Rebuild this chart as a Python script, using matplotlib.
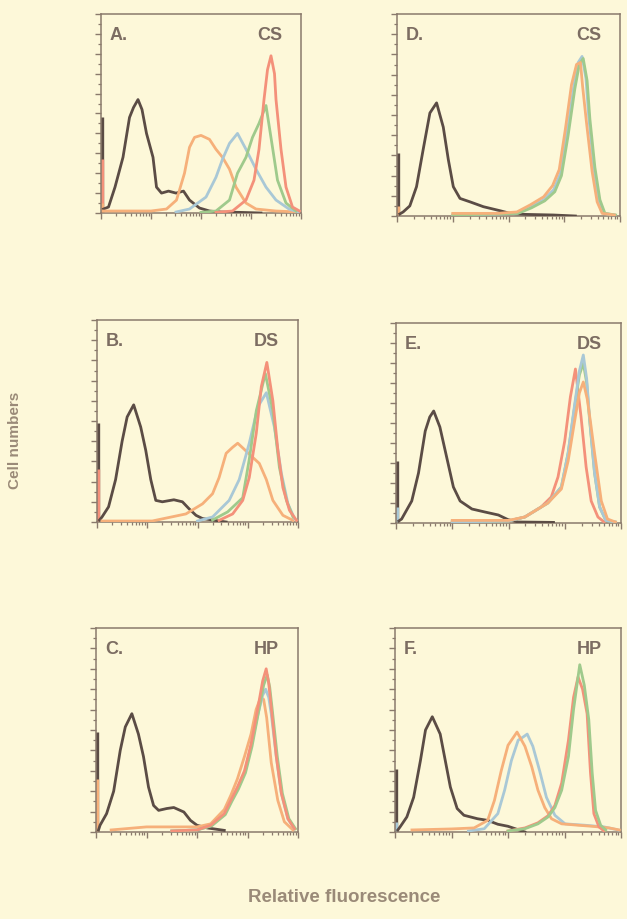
import numpy as np
import matplotlib as mpl
import matplotlib.pyplot as plt
from matplotlib.ticker import LogLocator, MultipleLocator, NullFormatter

mpl.rcParams['font.family'] = ['Liberation Sans', 'DejaVu Sans']

# colours
bg = '#fdf8d9'
ink = '#8a7a6c'
txt = '#7c6d62'
col = {'dark': '#5b4c45', 'orange': '#f6b07a', 'blue': '#a9c8d6',
       'green': '#9fca8c', 'red': '#f4917a'}

# data: per curve (log10 fluorescence, fraction of panel height)
panel_A = {
    'dark': ([0.05, 0.15, 0.28, 0.44, 0.57, 0.65, 0.74, 0.82, 0.91, 1.04, 1.11, 1.21, 1.35, 1.5, 1.65, 1.77, 1.97, 2.17, 2.4, 2.8, 3.2],
             [0.02, 0.03, 0.13, 0.28, 0.48, 0.53, 0.57, 0.52, 0.40, 0.28, 0.13, 0.10, 0.11, 0.10, 0.11, 0.065, 0.025, 0.01, 0.005, 0.003, 0.0]),
    'orange': ([0.05, 0.5, 1.0, 1.31, 1.51, 1.67, 1.77, 1.87, 2.0, 2.17, 2.30, 2.43, 2.57, 2.70, 2.90, 3.10, 3.5, 3.95],
               [0.01, 0.01, 0.01, 0.02, 0.065, 0.2, 0.33, 0.38, 0.39, 0.37, 0.32, 0.28, 0.22, 0.13, 0.05, 0.02, 0.01, 0.005]),
    'blue': ([1.5, 1.77, 2.10, 2.30, 2.43, 2.57, 2.73, 2.90, 3.10, 3.30, 3.50, 3.76, 3.95],
             [0.005, 0.02, 0.08, 0.18, 0.27, 0.35, 0.40, 0.32, 0.22, 0.13, 0.065, 0.02, 0.005]),
    'green': ([2.0, 2.30, 2.57, 2.73, 2.90, 3.03, 3.16, 3.30, 3.43, 3.53, 3.70, 3.90],
              [0.003, 0.01, 0.065, 0.2, 0.28, 0.38, 0.45, 0.54, 0.33, 0.165, 0.05, 0.01]),
    'red': ([2.3, 2.63, 2.90, 3.06, 3.16, 3.26, 3.33, 3.40, 3.47, 3.50, 3.60, 3.70, 3.83, 3.97],
            [0.003, 0.01, 0.065, 0.165, 0.32, 0.57, 0.72, 0.79, 0.70, 0.57, 0.32, 0.13, 0.03, 0.01]),
}
edge_A = {'dark': 0.48, 'red': 0.27, 'orange': 0.05}

panel_B = {
    'dark': ([0.05, 0.1, 0.23, 0.37, 0.5, 0.6, 0.73, 0.87, 0.97, 1.07, 1.17, 1.3, 1.53, 1.7, 1.83, 1.97, 2.1, 2.57],
             [0.01, 0.025, 0.075, 0.21, 0.40, 0.52, 0.58, 0.47, 0.355, 0.21, 0.107, 0.10, 0.11, 0.10, 0.066, 0.033, 0.017, 0.0]),
    'orange': ([0.1, 1.1, 1.77, 2.1, 2.3, 2.43, 2.57, 2.7, 2.8, 2.93, 3.1, 3.23, 3.37, 3.5, 3.7, 3.9],
               [0.005, 0.005, 0.04, 0.09, 0.14, 0.22, 0.34, 0.37, 0.39, 0.36, 0.32, 0.29, 0.21, 0.107, 0.033, 0.008]),
    'blue': ([2.0, 2.3, 2.63, 2.83, 3.03, 3.2, 3.37, 3.53, 3.67, 3.8, 3.93],
             [0.005, 0.025, 0.107, 0.21, 0.39, 0.57, 0.64, 0.47, 0.24, 0.09, 0.017]),
    'green': ([2.3, 2.6, 2.9, 3.03, 3.17, 3.35, 3.5, 3.63, 3.77, 3.9],
              [0.01, 0.05, 0.12, 0.31, 0.55, 0.735, 0.55, 0.27, 0.107, 0.025]),
    'red': ([2.43, 2.7, 2.9, 3.03, 3.17, 3.27, 3.38, 3.5, 3.6, 3.7, 3.83, 3.97],
            [0.008, 0.04, 0.107, 0.22, 0.44, 0.67, 0.79, 0.60, 0.355, 0.17, 0.058, 0.008]),
}
edge_B = {'dark': 0.49, 'red': 0.26}

panel_C = {
    'dark': ([0.05, 0.08, 0.21, 0.35, 0.48, 0.58, 0.71, 0.84, 0.94, 1.04, 1.14, 1.24, 1.4, 1.54, 1.74, 1.87, 2.0, 2.2, 2.54],
             [0.01, 0.033, 0.09, 0.20, 0.40, 0.515, 0.58, 0.48, 0.37, 0.22, 0.13, 0.106, 0.115, 0.12, 0.098, 0.057, 0.033, 0.02, 0.008]),
    'orange': ([0.3, 1.0, 2.0, 2.27, 2.54, 2.67, 2.8, 2.94, 3.07, 3.17, 3.26, 3.32, 3.38, 3.47, 3.6, 3.73, 3.9],
               [0.01, 0.025, 0.025, 0.04, 0.11, 0.18, 0.26, 0.37, 0.48, 0.60, 0.66, 0.65, 0.56, 0.34, 0.155, 0.05, 0.01]),
    'blue': ([1.5, 2.0, 2.27, 2.54, 2.67, 2.8, 2.94, 3.07, 3.2, 3.3, 3.36, 3.42, 3.47, 3.57, 3.67, 3.8, 3.93],
             [0.005, 0.01, 0.03, 0.085, 0.15, 0.21, 0.29, 0.42, 0.57, 0.67, 0.70, 0.66, 0.58, 0.37, 0.19, 0.065, 0.016]),
    'green': ([1.5, 2.0, 2.29, 2.56, 2.69, 2.82, 2.96, 3.09, 3.22, 3.32, 3.39, 3.44, 3.49, 3.59, 3.69, 3.82, 3.95],
              [0.005, 0.01, 0.03, 0.085, 0.15, 0.21, 0.29, 0.42, 0.59, 0.72, 0.77, 0.71, 0.60, 0.37, 0.19, 0.065, 0.016]),
    'red': ([1.5, 2.0, 2.27, 2.54, 2.67, 2.8, 2.94, 3.07, 3.2, 3.3, 3.37, 3.42, 3.47, 3.57, 3.67, 3.8, 3.93],
            [0.005, 0.01, 0.033, 0.09, 0.155, 0.22, 0.30, 0.43, 0.60, 0.74, 0.80, 0.73, 0.61, 0.37, 0.19, 0.065, 0.016]),
}
edge_C = {'dark': 0.49, 'orange': 0.26}

panel_D = {
    'dark': ([0.05, 0.11, 0.23, 0.35, 0.47, 0.59, 0.71, 0.83, 0.92, 1.01, 1.13, 1.31, 1.55, 1.85, 2.03, 2.3, 2.8, 3.2],
             [0.01, 0.02, 0.05, 0.145, 0.33, 0.51, 0.56, 0.44, 0.28, 0.145, 0.087, 0.07, 0.046, 0.026, 0.013, 0.008, 0.005, 0.0]),
    'blue': ([1.0, 1.8, 2.15, 2.39, 2.63, 2.81, 2.93, 3.05, 3.17, 3.25, 3.32, 3.39, 3.44, 3.53, 3.62, 3.71, 3.9],
             [0.005, 0.01, 0.013, 0.046, 0.08, 0.13, 0.21, 0.41, 0.64, 0.76, 0.79, 0.68, 0.49, 0.24, 0.08, 0.013, 0.005]),
    'green': ([1.0, 1.8, 2.17, 2.41, 2.65, 2.83, 2.95, 3.07, 3.19, 3.27, 3.34, 3.41, 3.46, 3.55, 3.64, 3.73, 3.92],
              [0.005, 0.01, 0.013, 0.04, 0.075, 0.12, 0.20, 0.40, 0.63, 0.75, 0.78, 0.67, 0.48, 0.24, 0.08, 0.013, 0.005]),
    'orange': ([1.0, 1.8, 2.15, 2.39, 2.63, 2.79, 2.91, 3.02, 3.13, 3.22, 3.29, 3.33, 3.40, 3.50, 3.59, 3.68, 3.9],
               [0.013, 0.013, 0.02, 0.055, 0.095, 0.15, 0.23, 0.43, 0.65, 0.75, 0.76, 0.64, 0.46, 0.22, 0.07, 0.013, 0.005]),
}
edge_D = {'dark': 0.31, 'orange': 0.05}

panel_E = {
    'dark': ([0.05, 0.1, 0.28, 0.4, 0.52, 0.6, 0.67, 0.78, 0.9, 1.02, 1.14, 1.35, 1.58, 1.82, 1.99, 2.17, 2.8],
             [0.01, 0.02, 0.11, 0.25, 0.46, 0.53, 0.56, 0.48, 0.33, 0.18, 0.11, 0.07, 0.055, 0.04, 0.017, 0.005, 0.003]),
    'red': ([1.0, 2.0, 2.29, 2.58, 2.76, 2.88, 3.0, 3.1, 3.19, 3.29, 3.38, 3.47, 3.59, 3.7],
            [0.005, 0.01, 0.03, 0.08, 0.13, 0.23, 0.41, 0.63, 0.77, 0.53, 0.28, 0.11, 0.03, 0.005]),
    'green': ([1.0, 2.0, 2.29, 2.7, 2.94, 3.06, 3.17, 3.26, 3.33, 3.39, 3.44, 3.53, 3.62, 3.73, 3.9],
              [0.005, 0.01, 0.03, 0.10, 0.18, 0.35, 0.57, 0.74, 0.80, 0.70, 0.52, 0.25, 0.08, 0.013, 0.005]),
    'blue': ([1.0, 2.0, 2.29, 2.7, 2.94, 3.06, 3.17, 3.26, 3.33, 3.39, 3.44, 3.53, 3.62, 3.73, 3.9],
             [0.005, 0.01, 0.03, 0.10, 0.18, 0.35, 0.58, 0.76, 0.84, 0.72, 0.53, 0.25, 0.08, 0.013, 0.005]),
    'orange': ([1.0, 2.0, 2.29, 2.7, 2.94, 3.06, 3.17, 3.26, 3.33, 3.40, 3.46, 3.53, 3.65, 3.76, 3.9],
               [0.013, 0.013, 0.03, 0.10, 0.17, 0.31, 0.50, 0.65, 0.705, 0.62, 0.50, 0.35, 0.11, 0.02, 0.005]),
}
edge_E = {'dark': 0.31, 'blue': 0.08}

panel_F = {
    'dark': ([0.05, 0.09, 0.21, 0.33, 0.45, 0.54, 0.66, 0.8, 0.89, 0.98, 1.1, 1.22, 1.46, 1.64, 1.82, 2.0, 2.3],
             [0.01, 0.025, 0.074, 0.17, 0.35, 0.5, 0.565, 0.48, 0.35, 0.22, 0.115, 0.082, 0.065, 0.057, 0.038, 0.028, 0.0]),
    'blue': ([1.3, 1.58, 1.82, 1.94, 2.06, 2.18, 2.27, 2.34, 2.44, 2.56, 2.68, 2.83, 3.01, 3.37, 3.7, 3.95],
             [0.005, 0.016, 0.09, 0.205, 0.35, 0.45, 0.466, 0.48, 0.42, 0.30, 0.17, 0.082, 0.04, 0.033, 0.025, 0.01]),
    'orange': ([0.3, 1.0, 1.4, 1.64, 1.76, 1.88, 2.0, 2.16, 2.3, 2.42, 2.53, 2.65, 2.77, 2.95, 3.25, 3.49, 3.79, 3.97],
               [0.01, 0.015, 0.02, 0.057, 0.155, 0.30, 0.425, 0.49, 0.42, 0.32, 0.205, 0.12, 0.065, 0.04, 0.033, 0.028, 0.02, 0.01]),
    'red': ([2.0, 2.3, 2.53, 2.71, 2.83, 2.95, 3.07, 3.16, 3.24, 3.32, 3.40, 3.46, 3.52, 3.61, 3.7],
            [0.005, 0.02, 0.045, 0.08, 0.13, 0.24, 0.45, 0.66, 0.76, 0.70, 0.58, 0.29, 0.09, 0.025, 0.005]),
    'green': ([2.0, 2.3, 2.53, 2.71, 2.83, 2.95, 3.07, 3.16, 3.27, 3.35, 3.43, 3.49, 3.55, 3.64, 3.73],
              [0.005, 0.016, 0.04, 0.074, 0.12, 0.205, 0.37, 0.60, 0.82, 0.72, 0.55, 0.29, 0.106, 0.033, 0.01]),
}
edge_F = {'dark': 0.31, 'blue': 0.05}

letters = ['A.', 'B.', 'C.', 'D.', 'E.', 'F.']
tags = ['CS', 'DS', 'HP', 'CS', 'DS', 'HP']
panels = [panel_A, panel_B, panel_C, panel_D, panel_E, panel_F]
edges = [edge_A, edge_B, edge_C, edge_D, edge_E, edge_F]

# panel boxes in pixels: left, top, right, bottom
W, H = 627, 919
boxes = [(101, 14, 301, 213), (97, 320, 298, 522), (96, 628, 298, 832),
         (397, 14, 620, 216), (396, 323, 621, 523), (395, 628, 621, 832)]

fig = plt.figure(figsize=(W / 100, H / 100), dpi=100, facecolor=bg)

for i in range(6):
    l, t, r, b = boxes[i]
    ax = fig.add_axes([l / W, 1 - b / H, (r - l) / W, (b - t) / H])
    ax.set_facecolor(bg)
    ax.set_xscale('log')
    ax.set_xlim(1, 1e4)
    ax.set_ylim(0, 1)
    for name, v in edges[i].items():
        ax.vlines(10 ** 0.015, 0, v, color=col[name], lw=2.4, zorder=2)
    for name, (lx, fy) in panels[i].items():
        ax.plot(10 ** np.array(lx), fy, color=col[name], lw=2.0, zorder=3,
                solid_joinstyle='round')
    for s in ax.spines.values():
        s.set_color(ink)
        s.set_linewidth(1.1)
    ax.xaxis.set_major_locator(LogLocator(base=10, numticks=10))
    ax.xaxis.set_minor_locator(LogLocator(base=10, subs=np.arange(2, 10), numticks=50))
    ax.xaxis.set_major_formatter(NullFormatter())
    ax.xaxis.set_minor_formatter(NullFormatter())
    ax.yaxis.set_major_locator(MultipleLocator(0.1))
    ax.yaxis.set_minor_locator(MultipleLocator(0.05))
    ax.yaxis.set_major_formatter(NullFormatter())
    ax.tick_params(which='major', direction='out', length=4, width=1, color=ink)
    ax.tick_params(which='minor', direction='out', length=2.5, width=0.9, color=ink)
    ax.text(9 / (r - l), 1 - 13 / (b - t), letters[i], transform=ax.transAxes,
            ha='left', va='top', fontsize=13, fontweight='bold', color=txt)
    ax.text(1 - 19 / (r - l), 1 - 13 / (b - t), tags[i], transform=ax.transAxes,
            ha='right', va='top', fontsize=13, fontweight='bold', color=txt)

fig.text(15 / W, 1 - 440 / H, 'Cell numbers', rotation=90, ha='center', va='center',
         fontsize=11, fontweight='bold', color='#9a8a78')
fig.text(344 / W, 1 - 898 / H, 'Relative fluorescence', ha='center', va='center',
         fontsize=13.5, fontweight='bold', color='#9a8a78')

fig.savefig('out.png', dpi=100, facecolor=bg)
